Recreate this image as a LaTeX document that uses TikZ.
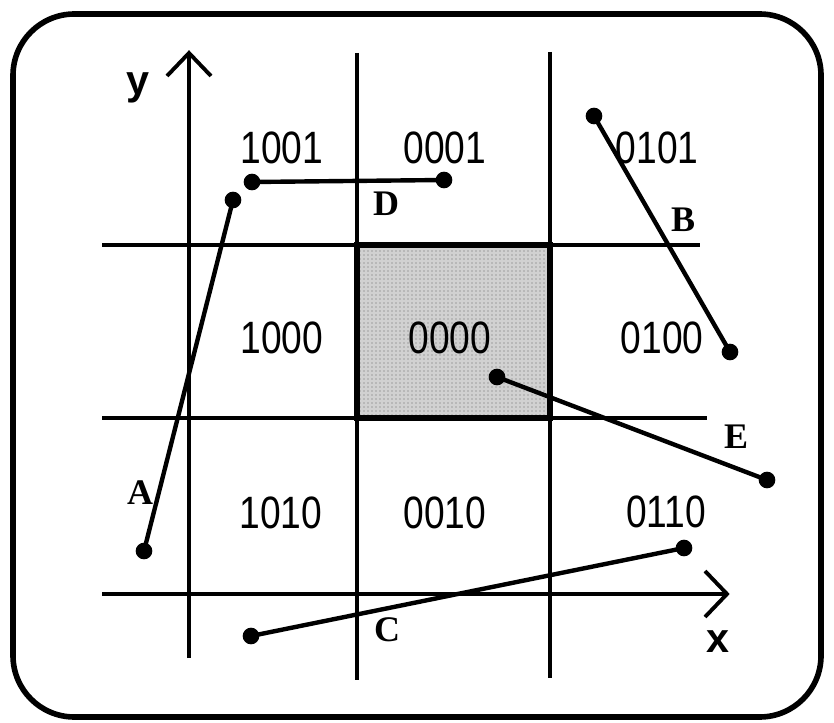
\documentclass[tikz,border=0pt]{standalone}
\usepackage{fontspec}
\setmainfont{Liberation Serif}
\newfontfamily\codefont{Liberation Sans}
\usetikzlibrary{patterns}
\begin{document}
\begin{tikzpicture}[x=0.75pt,y=-0.75pt,
  gridline/.style={line width=2.7pt},
  axisline/.style={line width=2.9pt},
  segline/.style={line width=3.3pt},
  enddot/.style={circle,fill=black,inner sep=0pt,minimum size=12.5pt},
  code/.style={font=\codefont\fontsize{34}{34}\selectfont,inner sep=0pt,xscale=0.82},
  seglabel/.style={font=\bfseries\fontsize{27}{27}\selectfont,inner sep=0pt},
  axlabel/.style={font=\codefont\bfseries\fontsize{31}{31}\selectfont,inner sep=0pt}]
\useasboundingbox (0,0) rectangle (834,723);
% frame
\draw[line width=4.2pt,rounded corners=46pt] (13,14) rectangle (821,717);
% window
\fill[black!18] (357,245) rectangle (550,418);
\fill[pattern=dots,pattern color=black!60] (357,245) rectangle (550,418);
% grid lines
\draw[gridline] (102,245) -- (700,245);
\draw[gridline] (102,418) -- (707,418);
\draw[gridline] (357,53) -- (357,680);
\draw[gridline] (550,52) -- (550,678);
\draw[line width=5pt] (357,245) rectangle (550,418);
% axes
\coordinate (ybot) at (189,658);
\coordinate (ytop) at (189,53);
\coordinate (xl) at (102,594);
\coordinate (xr) at (727,594);
\draw[axisline] (ybot) -- (ytop);
\draw[axisline,line join=miter] (167,76) -- (ytop) -- (211,76);
\draw[axisline] (xl) -- (xr);
\draw[axisline,line join=miter] (705,571) -- (xr) -- (705,617);
\node[axlabel] (ylab) at (138,88) {y};
\node[axlabel] (xlab) at (718,642) {x};
% region codes
\node[code] (c1001) at (282,148) {1001};
\node[code] (c0001) at (445,148) {0001};
\node[code] (c0101) at (657,148) {0101};
\node[code] (c1000) at (282,338) {1000};
\node[code] (c0000) at (450,338) {0000};
\node[code] (c0100) at (662,338) {0100};
\node[code] (c1010) at (281,513) {1010};
\node[code] (c0010) at (445,513) {0010};
\node[code] (c0110) at (666,512) {0110};
% segment end points
\node[enddot] (a1) at (144,551) {};
\node[enddot] (a2) at (233,200) {};
\node[enddot] (d1) at (252,182) {};
\node[enddot] (d2) at (444,180) {};
\node[enddot] (b1) at (594,116) {};
\node[enddot] (b2) at (730,352) {};
\node[enddot] (e1) at (497,377) {};
\node[enddot] (e2) at (767,480) {};
\node[enddot] (cc1) at (251,636) {};
\node[enddot] (cc2) at (684,548) {};
\draw[segline] (a1.center) -- (a2.center);
\draw[segline] (d1.center) -- (d2.center);
\draw[segline] (b1.center) -- (b2.center);
\draw[segline] (e1.center) -- (e2.center);
\draw[segline] (cc1.center) -- (cc2.center);
% segment labels
\node[seglabel] (la) at (140,493) {A};
\node[seglabel] (lb) at (683,220) {B};
\node[seglabel] (lc) at (387,630) {C};
\node[seglabel] (ld) at (386,204) {D};
\node[seglabel] (le) at (736,437) {E};
\end{tikzpicture}
\end{document}
